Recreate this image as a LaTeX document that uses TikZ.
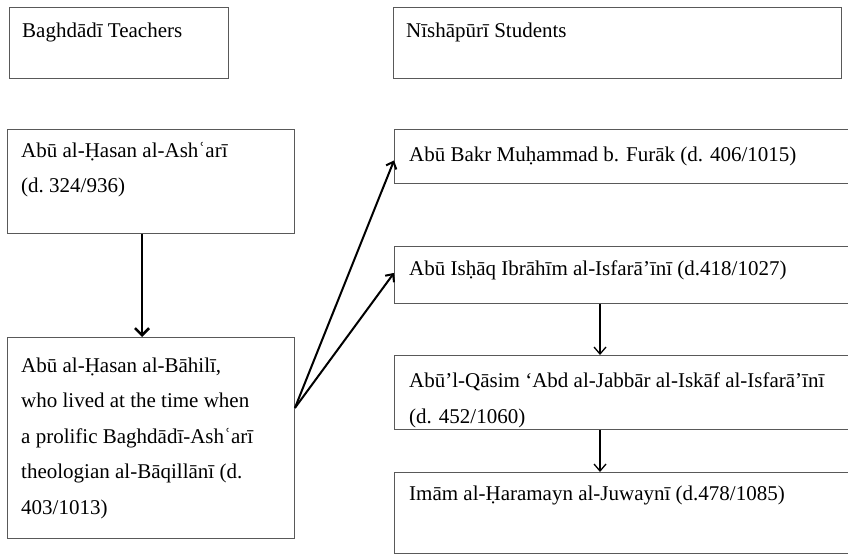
\documentclass[tikz,border=0pt]{standalone}
\usepackage{fontspec}
\setmainfont{Liberation Serif}
\usetikzlibrary{arrows.meta,positioning}

\begin{document}
\begin{tikzpicture}[x=1pt,y=-1pt,
  box/.style={draw=black!65,line width=0.9pt,anchor=north west,inner sep=0pt},
  name text/.style={anchor=base west,align=left,inner sep=0pt,font=\fontsize{21}{35.5}\selectfont},
  thick link/.style={-{Straight Barb[length=7pt,width=14pt]},line width=2.6pt},
  fork link/.style={-{Straight Barb[length=6pt,width=11pt]},line width=2pt},
  thin link/.style={-{Straight Barb[length=7pt,width=12pt]},line width=1.3pt}]

  \useasboundingbox (0,0) rectangle (848,556);
  \clip (0,0) rectangle (848,556);

  % column heads
  \node[box,minimum width=219pt,minimum height=71pt] (teachers) at (9,7) {};
  \node[box,minimum width=448pt,minimum height=71pt] (students) at (393,7) {};
  \node[name text] (teachers text) at ([shift={(13,31)}]teachers.north west) {Baghdādī Teachers};
  \node[name text] (students text) at ([shift={(13,31)}]students.north west) {Nīshāpūrī Students};

  % teachers (base of a multi-line text is its last line)
  \node[box,minimum width=287pt,minimum height=104pt] (ashari) at (7,129) {};
  \node[box,minimum width=287pt,minimum height=201pt] (bahili) at (7,337) {};
  \node[name text] (ashari text) at ([shift={(14,64)}]ashari.north west)
    {Abū al-Ḥasan al-Ashʿarī\\(d.~324/936)};
  \node[name text] (bahili text) at ([shift={(14,177)}]bahili.north west)
    {Abū al-Ḥasan al-Bāhilī,\\who lived at the time when\\a prolific Baghdādī-Ashʿarī\\theologian al-Bāqillānī (d.\\403/1013)};

  % students
  \node[box,minimum width=470pt,minimum height=54pt] (furak) at (394,129) {};
  \node[box,minimum width=470pt,minimum height=57pt] (isfarayini) at (394,246) {};
  \node[box,minimum width=470pt,minimum height=74pt] (qasim) at (394,355) {};
  \node[box,minimum width=470pt,minimum height=81pt] (juwayni) at (394,472) {};
  \node[name text] (furak text) at ([shift={(15,33)}]furak.north west)
    {Abū Bakr Muḥammad b. Furāk (d. 406/1015)};
  \node[name text] (isfarayini text) at ([shift={(15,29)}]isfarayini.north west)
    {Abū Isḥāq Ibrāhīm al-Isfarā’īnī (d.418/1027)};
  \node[name text] (qasim text) at ([shift={(15,68)}]qasim.north west)
    {Abū’l-Qāsim ‘Abd al-Jabbār al-Iskāf al-Isfarā’īnī\\(d. 452/1060)};
  \node[name text] (juwayni text) at ([shift={(15,28)}]juwayni.north west)
    {Imām al-Ḥaramayn al-Juwaynī (d.478/1085)};

  \coordinate (left col) at (142,0);
  \coordinate (right col) at (600,0);
  \coordinate (fork) at ([yshift=30pt]bahili.east);

  \draw[thick link] (ashari.south -| left col) -- (bahili.north -| left col);
  \draw[fork link] (fork) -- ([yshift=-4pt]furak.west);
  \draw[fork link] (fork) -- ([yshift=2pt]isfarayini.west);
  \draw[thin link] (isfarayini.south -| right col) -- (qasim.north -| right col);
  \draw[thin link] (qasim.south -| right col) -- (juwayni.north -| right col);
\end{tikzpicture}
\end{document}
